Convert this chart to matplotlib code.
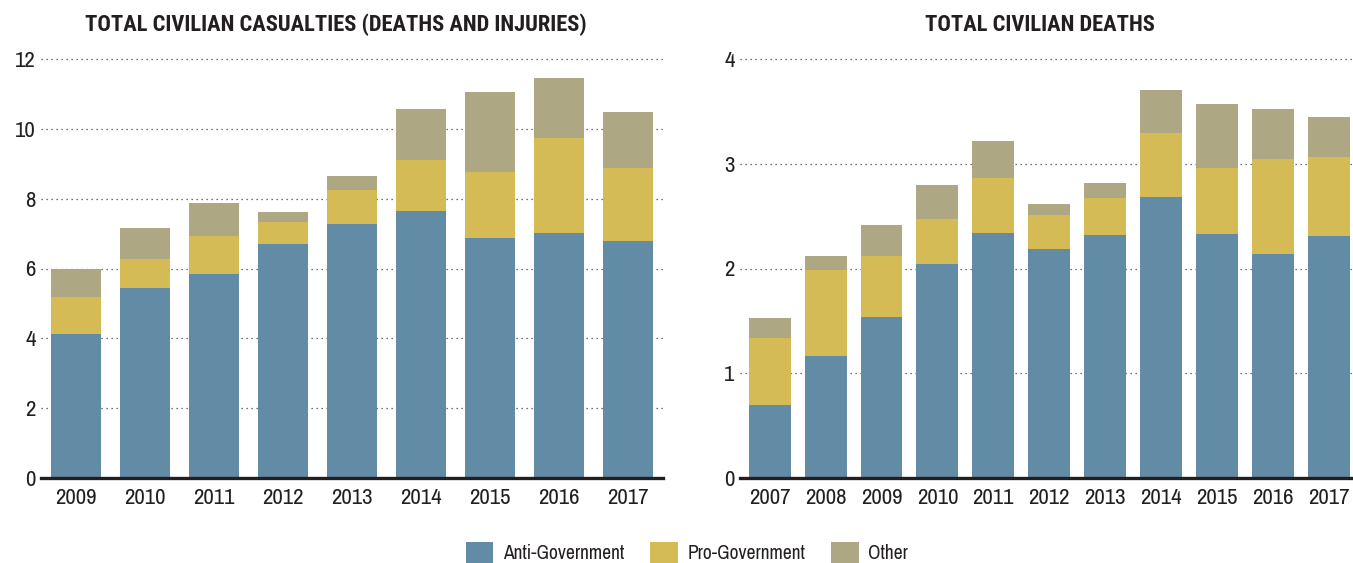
import matplotlib
matplotlib.use("Agg")
import matplotlib.pyplot as plt
from matplotlib.patches import Patch
from matplotlib import font_manager

# Data (stacked components)
years_casualties = ["2009", "2010", "2011", "2012", "2013", "2014", "2015", "2016", "2017"]
cas_anti = [4.13, 5.44, 5.85, 6.70, 7.28, 7.65, 6.88, 7.02, 6.79]
cas_pro = [1.06, 0.83, 1.08, 0.63, 0.97, 1.46, 1.89, 2.72, 2.09]
cas_other = [0.80, 0.89, 0.95, 0.29, 0.40, 1.46, 2.29, 1.72, 1.61]

years_deaths = ["2007", "2008", "2009", "2010", "2011", "2012", "2013", "2014", "2015", "2016", "2017"]
dth_anti = [0.70, 1.16, 1.54, 2.04, 2.34, 2.19, 2.32, 2.68, 2.33, 2.14, 2.31]
dth_pro = [0.64, 0.83, 0.58, 0.43, 0.52, 0.32, 0.35, 0.61, 0.63, 0.91, 0.75]
dth_other = [0.19, 0.13, 0.30, 0.33, 0.36, 0.11, 0.15, 0.41, 0.61, 0.47, 0.39]

series_names = ["Anti-Government", "Pro-Government", "Other"]
colors = ["#628ba5", "#d4bb56", "#aea784"]
text_color = "#231f20"

available = {f.name for f in font_manager.fontManager.ttflist}


def pick(*names):
    return [n for n in names if n in available] + ["DejaVu Sans"]


body_font = pick("Archivo Narrow", "PT Sans Narrow", "Roboto Condensed")
title_font = pick("Roboto Condensed", "PT Sans Narrow")
plt.rcParams["font.family"] = body_font

W, H = 1353, 563
fig = plt.figure(figsize=(W / 100, H / 100), dpi=100)


def draw(ax, years, anti, pro, other, ymax, step, width, xlim):
    x = list(range(len(years)))
    bottoms2 = [a + p for a, p in zip(anti, pro)]
    ax.bar(x, anti, width=width, color=colors[0], zorder=2)
    ax.bar(x, pro, width=width, bottom=anti, color=colors[1], zorder=2)
    ax.bar(x, other, width=width, bottom=bottoms2, color=colors[2], zorder=2)
    ax.set_xlim(*xlim)
    ax.set_ylim(0, ymax)
    ticks = list(range(0, ymax + 1, step))
    ax.set_yticks(ticks)
    ax.set_xticks(x)
    ax.set_xticklabels(years)
    for t in ticks[1:]:
        ax.axhline(t, color="#444444", linewidth=0.9, linestyle=(0, (1, 3)),
                   zorder=1, clip_on=False)
    for s in ["top", "right", "left"]:
        ax.spines[s].set_visible(False)
    ax.spines["bottom"].set_linewidth(2.4)
    ax.spines["bottom"].set_color(text_color)
    ax.spines["bottom"].set_zorder(3)
    ax.tick_params(axis="both", length=0, labelsize=16.5, colors=text_color)
    ax.tick_params(axis="y", pad=4)
    ax.tick_params(axis="x", pad=7)


ax1 = fig.add_axes([41 / W, (H - 478) / H, 622 / W, 419 / H])
draw(ax1, years_casualties, cas_anti, cas_pro, cas_other, 12, 2, 0.73, (-0.51, 8.51))

ax2 = fig.add_axes([740 / W, (H - 478) / H, 613 / W, 419 / H])
draw(ax2, years_deaths, dth_anti, dth_pro, dth_other, 4, 1, 0.75, (-0.53, 10.43))

fig.text(336 / W, 1 - 25 / H, "TOTAL CIVILIAN CASUALTIES (DEATHS AND INJURIES)",
         ha="center", va="center", fontsize=16.2, fontweight="bold", color=text_color,
         family=title_font)
fig.text(1040 / W, 1 - 25 / H, "TOTAL CIVILIAN DEATHS",
         ha="center", va="center", fontsize=16.2, fontweight="bold", color=text_color,
         family=title_font)

handles = [Patch(facecolor=c, edgecolor="none") for c in colors]
fig.legend(handles, series_names, loc="center", bbox_to_anchor=(687 / W, 1 - 553 / H),
           ncol=3, frameon=False, fontsize=14, handlelength=1.4, handleheight=1.4,
           handletextpad=0.5, columnspacing=1.35, labelcolor=text_color,
           borderaxespad=0, borderpad=0)

fig.savefig("out.png", dpi=100)
